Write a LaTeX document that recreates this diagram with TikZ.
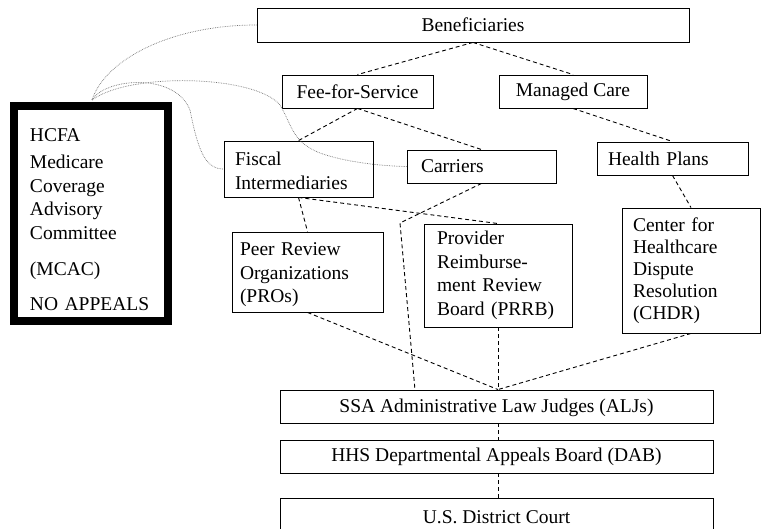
\documentclass[tikz,border=0pt]{standalone}
\usepackage{fontspec}
\setmainfont{Liberation Serif}
\usetikzlibrary{calc}
\begin{document}
\begin{tikzpicture}[x=1pt,y=-1pt,
  box/.style={draw, line width=0.9pt, rectangle, inner sep=0pt, font=\fontsize{19.5}{23.5}\selectfont},
  link/.style={line width=0.9pt, dash pattern=on 4pt off 3pt},
  conn/.style={densely dotted, line width=0.7pt, black!55}]
\useasboundingbox (0,0) rectangle (761,529);
% boxes
\node[box, minimum width=432, minimum height=34] (ben) at (473,25) {Beneficiaries};
\node[box, minimum width=151, minimum height=33] (ffs) at (357.5,91.5) {Fee-for-Service};
\node[box, minimum width=148, minimum height=33] (mc) at (573,91.5) {Managed Care};
\node[box, align=left, text width=127, inner xsep=11, minimum height=56] (fi) at (298.5,169) {\rule{0pt}{17pt}Fiscal\\Intermediaries};
\node[box, align=left, text width=121, inner xsep=14, minimum height=33] (car) at (481.5,166.5) {Carriers};
\node[box, align=left, text width=129, inner xsep=11, minimum height=33] (hp) at (672.5,158.5) {Health Plans};
\node[box, align=left, text width=135, inner xsep=8, minimum height=80] (pro) at (307.5,272) {\rule{0pt}{19pt}Peer Review\\Organizations\\(PROs)};
\node[box, align=left, text width=122, inner xsep=13, minimum height=103] (prrb) at (498,275.5) {Provider\\Reimburse-\\ment Review\\Board (PRRB)};
\node[box, align=left, text width=116, inner xsep=11, minimum height=125, font=\fontsize{19.5}{22}\selectfont] (chdr) at (691,270.5) {Center for\\Healthcare\\Dispute\\Resolution\\(CHDR)};
\node[box, line width=8pt, align=left, text width=122, inner xsep=16, minimum width=154, minimum height=215] (hcfa) at (91,213.5) {\rule{0pt}{25pt}HCFA\\[4pt]Medicare\\Coverage\\Advisory\\Committee\\[13pt](MCAC)\\[11pt]NO APPEALS};
\node[box, minimum width=433, minimum height=33] (alj) at (496.5,406.5) {\rule{0pt}{16pt}SSA Administrative Law Judges (ALJs)};
\node[box, minimum width=433, minimum height=33] (dab) at (496.5,456.5) {HHS Departmental Appeals Board (DAB)};
\node[box, minimum width=433, minimum height=38] (court) at (496.5,517) {U.S. District Court};
% helper coordinates
\coordinate (aljtop) at (prrb.south |- alj.north);
\coordinate (aljbot) at (prrb.south |- alj.south);
\coordinate (dabtop) at (prrb.south |- dab.north);
\coordinate (dabbot) at (prrb.south |- dab.south);
\coordinate (courttop) at (prrb.south |- court.north);
\coordinate (bend) at (400,223);
\coordinate (caralj) at (415,390);
\coordinate (htop) at (92,100);
% dashed links
\draw[link] (ben.south) -- (ffs.north);
\draw[link] (ben.south) -- (mc.north);
\draw[link] (ffs.south) -- (fi.north);
\draw[link] (ffs.south) -- (car.north);
\draw[link] (mc.south) -- (hp.north);
\draw[link] (hp.south) -- (chdr.north);
\draw[link] (fi.south) -- (pro.north);
\draw[link] (fi.south) -- (prrb.north);
\draw[link] (car.south) -- (bend) -- (caralj);
\draw[link] (pro.south) -- (aljtop);
\draw[link] (prrb.south) -- (aljtop);
\draw[link] (chdr.south) -- (aljtop);
\draw[link] (aljbot) -- (dabtop);
\draw[link] (dabbot) -- (courttop);
% dotted curves to HCFA
\draw[conn] (ben.west) .. controls (170,25) and (105,60) .. (htop);
\draw[conn] (htop) .. controls (105,78) and (175,72) .. (190,110) .. controls (198,150) and (205,169) .. (fi.west);
\draw[conn] (htop) .. controls (130,72) and (255,75) .. (280,105) .. controls (292,125) and (292,142) .. (320,153) .. controls (345,162) and (380,166) .. (car.west);
\end{tikzpicture}
\end{document}
